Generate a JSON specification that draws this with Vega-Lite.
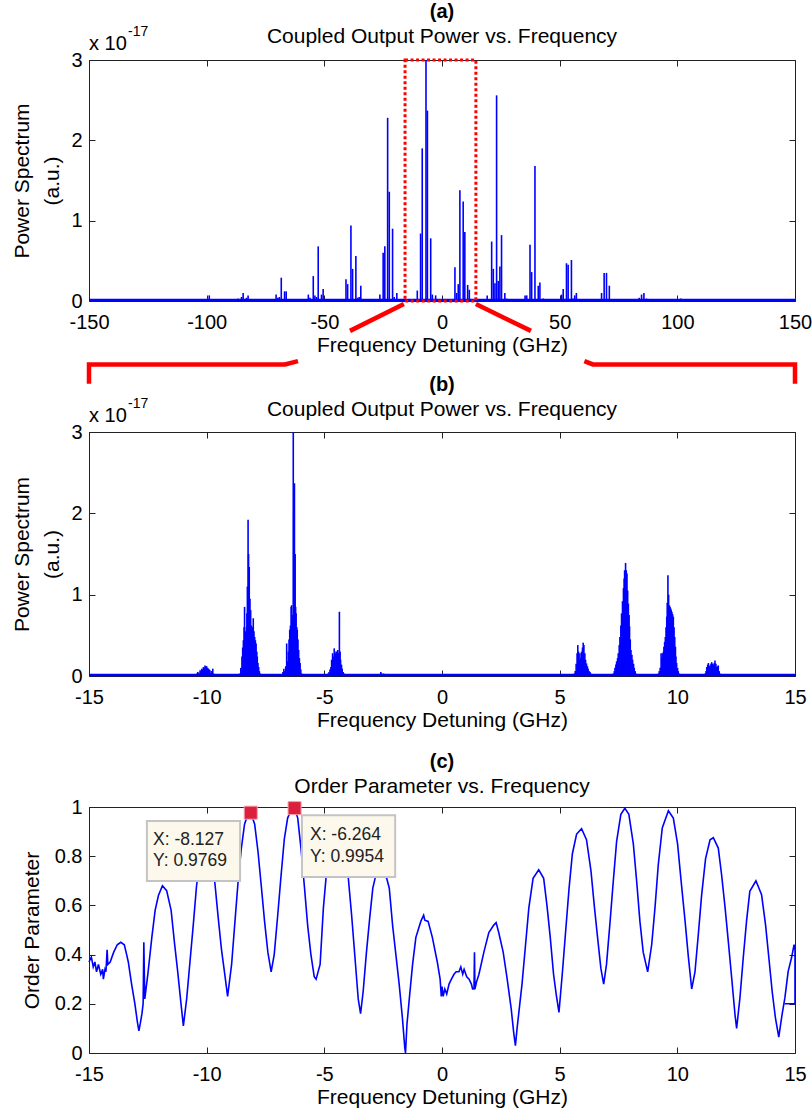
{
  "$schema": "https://vega.github.io/schema/vega-lite/v6.json",
  "background": "white",
  "padding": {"left": 11, "top": 2, "right": 0, "bottom": 4},
  "config": {
    "font": "Liberation Sans",
    "view": {"stroke": null},
    "axis": {"grid": false, "domainColor": "#222", "tickColor": "#222", "labelColor": "#000", "titleColor": "#000", "labelFontSize": 20, "titleFontSize": 21, "titleFontWeight": "normal", "labelFlush": false, "labelOverlap": false, "tickSize": -6, "domainWidth": 1, "tickWidth": 1},
    "title": {"fontSize": 20, "subtitleFontSize": 21, "color": "#000", "subtitleColor": "#000", "anchor": "middle", "fontWeight": "bold", "offset": 6, "subtitlePadding": 4}
  },
  "datasets": {
    "specA": [
      {"x": -98.9, "p": 0.07}, {"x": -86.6, "p": 0.03}, {"x": -85.2, "p": 0.05}, {"x": -84.5, "p": 0.1}, {"x": -83.1, "p": 0.04}, {"x": -82.4, "p": 0.07},
      {"x": -70.5, "p": 0.08}, {"x": -69.8, "p": 0.04}, {"x": -69.1, "p": 0.05}, {"x": -68.3, "p": 0.29}, {"x": -66.9, "p": 0.12}, {"x": -66.2, "p": 0.12},
      {"x": -56.8, "p": 0.08}, {"x": -56.1, "p": 0.04}, {"x": -54.7, "p": 0.31}, {"x": -54.0, "p": 0.07}, {"x": -53.3, "p": 0.05}, {"x": -52.6, "p": 0.68}, {"x": -51.2, "p": 0.08}, {"x": -50.5, "p": 0.15},
      {"x": -40.8, "p": 0.27}, {"x": -40.1, "p": 0.21}, {"x": -38.7, "p": 0.94}, {"x": -38.0, "p": 0.4}, {"x": -36.6, "p": 0.56}, {"x": -35.9, "p": 0.04}, {"x": -35.2, "p": 0.05}, {"x": -34.5, "p": 0.19},
      {"x": -26.4, "p": 0.08}, {"x": -25.0, "p": 0.6}, {"x": -24.3, "p": 0.68}, {"x": -23.1, "p": 2.28}, {"x": -22.4, "p": 1.36}, {"x": -21.0, "p": 0.9}, {"x": -20.3, "p": 0.05}, {"x": -19.2, "p": 0.1},
      {"x": -10.5, "p": 0.13}, {"x": -9.1, "p": 0.84}, {"x": -8.4, "p": 1.9}, {"x": -6.8, "p": 3.0}, {"x": -6.2, "p": 2.37}, {"x": -4.8, "p": 0.78}, {"x": -4.1, "p": 0.08}, {"x": -2.7, "p": 0.07},
      {"x": 5.5, "p": 0.42}, {"x": 6.2, "p": 0.1}, {"x": 6.9, "p": 0.21}, {"x": 7.6, "p": 1.38}, {"x": 9.0, "p": 1.24}, {"x": 9.7, "p": 0.86}, {"x": 10.9, "p": 0.2}, {"x": 11.6, "p": 0.14},
      {"x": 19.2, "p": 0.07}, {"x": 21.1, "p": 0.74}, {"x": 21.8, "p": 0.4}, {"x": 22.5, "p": 0.22}, {"x": 23.2, "p": 2.56}, {"x": 23.9, "p": 0.25}, {"x": 24.6, "p": 0.43}, {"x": 25.3, "p": 0.82}, {"x": 26.7, "p": 0.1}, {"x": 27.4, "p": 0.03},
      {"x": 35.3, "p": 0.07}, {"x": 36.0, "p": 0.07}, {"x": 37.4, "p": 0.7}, {"x": 38.1, "p": 0.36}, {"x": 39.5, "p": 1.68}, {"x": 40.9, "p": 0.19}, {"x": 41.6, "p": 0.23}, {"x": 43.0, "p": 0.03},
      {"x": 50.8, "p": 0.08}, {"x": 51.5, "p": 0.15}, {"x": 52.9, "p": 0.47}, {"x": 53.6, "p": 0.45}, {"x": 55.0, "p": 0.51}, {"x": 55.7, "p": 0.03}, {"x": 56.4, "p": 0.07}, {"x": 57.1, "p": 0.1},
      {"x": 67.8, "p": 0.1}, {"x": 68.9, "p": 0.35}, {"x": 69.9, "p": 0.35}, {"x": 71.1, "p": 0.19},
      {"x": 83.8, "p": 0.04}, {"x": 84.8, "p": 0.08}, {"x": 85.8, "p": 0.1}, {"x": 86.9, "p": 0.03},
      {"x": 101.5, "p": 0.03}
    ],
    "specB": [
      {"x": -10.42, "p": 0.03}, {"x": -10.38, "p": 0.05}, {"x": -10.33, "p": 0.04}, {"x": -10.28, "p": 0.07}, {"x": -10.24, "p": 0.06}, {"x": -10.21, "p": 0.09}, {"x": -10.17, "p": 0.08}, {"x": -10.14, "p": 0.11}, {"x": -10.1, "p": 0.1}, {"x": -10.07, "p": 0.13}, {"x": -10.03, "p": 0.12}, {"x": -10.0, "p": 0.12}, {"x": -9.96, "p": 0.1}, {"x": -9.93, "p": 0.09}, {"x": -9.89, "p": 0.08}, {"x": -9.86, "p": 0.07}, {"x": -9.82, "p": 0.04}, {"x": -9.78, "p": 0.06}, {"x": -9.74, "p": 0.09}, {"x": -9.71, "p": 0.03},
      {"x": -8.6, "p": 0.03}, {"x": -8.55, "p": 0.1}, {"x": -8.5, "p": 0.24}, {"x": -8.47, "p": 0.35}, {"x": -8.44, "p": 0.44}, {"x": -8.41, "p": 0.6}, {"x": -8.39, "p": 0.85}, {"x": -8.36, "p": 0.55}, {"x": -8.33, "p": 0.44}, {"x": -8.31, "p": 0.6}, {"x": -8.29, "p": 0.77}, {"x": -8.27, "p": 1.1}, {"x": -8.24, "p": 1.92}, {"x": -8.22, "p": 1.5}, {"x": -8.19, "p": 1.34}, {"x": -8.16, "p": 0.95}, {"x": -8.13, "p": 0.81}, {"x": -8.1, "p": 0.62}, {"x": -8.07, "p": 0.52}, {"x": -8.04, "p": 0.6}, {"x": -8.02, "p": 0.71}, {"x": -7.99, "p": 0.55}, {"x": -7.96, "p": 0.48}, {"x": -7.93, "p": 0.44}, {"x": -7.9, "p": 0.4}, {"x": -7.87, "p": 0.3}, {"x": -7.85, "p": 0.24}, {"x": -7.82, "p": 0.16}, {"x": -7.79, "p": 0.11}, {"x": -7.76, "p": 0.06}, {"x": -7.73, "p": 0.03},
      {"x": -6.76, "p": 0.05}, {"x": -6.72, "p": 0.09}, {"x": -6.68, "p": 0.06}, {"x": -6.64, "p": 0.12}, {"x": -6.6, "p": 0.4}, {"x": -6.57, "p": 0.18}, {"x": -6.53, "p": 0.3}, {"x": -6.5, "p": 0.45}, {"x": -6.47, "p": 0.57}, {"x": -6.44, "p": 0.62}, {"x": -6.41, "p": 0.85}, {"x": -6.39, "p": 0.87}, {"x": -6.37, "p": 0.75}, {"x": -6.35, "p": 0.69}, {"x": -6.32, "p": 3.0}, {"x": -6.3, "p": 2.0}, {"x": -6.27, "p": 2.37}, {"x": -6.24, "p": 1.5}, {"x": -6.22, "p": 0.85}, {"x": -6.2, "p": 0.77}, {"x": -6.17, "p": 0.6}, {"x": -6.15, "p": 0.57}, {"x": -6.12, "p": 0.45}, {"x": -6.09, "p": 0.32}, {"x": -6.06, "p": 0.22}, {"x": -6.03, "p": 0.16}, {"x": -6.0, "p": 0.08}, {"x": -5.96, "p": 0.03},
      {"x": -4.84, "p": 0.03}, {"x": -4.8, "p": 0.05}, {"x": -4.76, "p": 0.08}, {"x": -4.72, "p": 0.11}, {"x": -4.69, "p": 0.2}, {"x": -4.65, "p": 0.28}, {"x": -4.62, "p": 0.24}, {"x": -4.58, "p": 0.34}, {"x": -4.55, "p": 0.3}, {"x": -4.51, "p": 0.28}, {"x": -4.47, "p": 0.3}, {"x": -4.43, "p": 0.32}, {"x": -4.4, "p": 0.28}, {"x": -4.36, "p": 0.79}, {"x": -4.33, "p": 0.3}, {"x": -4.31, "p": 0.2}, {"x": -4.27, "p": 0.14}, {"x": -4.24, "p": 0.09}, {"x": -4.2, "p": 0.05}, {"x": -4.16, "p": 0.03},
      {"x": -2.6, "p": 0.05}, {"x": -2.56, "p": 0.03}, {"x": -2.48, "p": 0.03},
      {"x": 5.62, "p": 0.03}, {"x": 5.66, "p": 0.06}, {"x": 5.7, "p": 0.15}, {"x": 5.74, "p": 0.28}, {"x": 5.77, "p": 0.38}, {"x": 5.8, "p": 0.3}, {"x": 5.83, "p": 0.2}, {"x": 5.86, "p": 0.28}, {"x": 5.9, "p": 0.22}, {"x": 5.93, "p": 0.3}, {"x": 5.97, "p": 0.35}, {"x": 6.0, "p": 0.41}, {"x": 6.03, "p": 0.38}, {"x": 6.07, "p": 0.28}, {"x": 6.1, "p": 0.2}, {"x": 6.14, "p": 0.155}, {"x": 6.18, "p": 0.12}, {"x": 6.21, "p": 0.09}, {"x": 6.25, "p": 0.06}, {"x": 6.29, "p": 0.05}, {"x": 6.32, "p": 0.03},
      {"x": 7.28, "p": 0.03}, {"x": 7.32, "p": 0.06}, {"x": 7.35, "p": 0.1}, {"x": 7.39, "p": 0.14}, {"x": 7.42, "p": 0.18}, {"x": 7.46, "p": 0.22}, {"x": 7.49, "p": 0.28}, {"x": 7.53, "p": 0.38}, {"x": 7.56, "p": 0.48}, {"x": 7.6, "p": 0.62}, {"x": 7.63, "p": 0.77}, {"x": 7.67, "p": 0.92}, {"x": 7.71, "p": 1.08}, {"x": 7.74, "p": 1.2}, {"x": 7.76, "p": 1.3}, {"x": 7.8, "p": 1.39}, {"x": 7.83, "p": 1.3}, {"x": 7.86, "p": 1.26}, {"x": 7.89, "p": 1.05}, {"x": 7.92, "p": 0.89}, {"x": 7.95, "p": 0.75}, {"x": 7.97, "p": 0.61}, {"x": 8.0, "p": 0.45}, {"x": 8.03, "p": 0.32}, {"x": 8.07, "p": 0.26}, {"x": 8.1, "p": 0.2}, {"x": 8.14, "p": 0.15}, {"x": 8.17, "p": 0.1}, {"x": 8.21, "p": 0.06}, {"x": 8.24, "p": 0.03},
      {"x": 9.19, "p": 0.03}, {"x": 9.23, "p": 0.06}, {"x": 9.27, "p": 0.1}, {"x": 9.31, "p": 0.28}, {"x": 9.34, "p": 0.22}, {"x": 9.38, "p": 0.28}, {"x": 9.41, "p": 0.3}, {"x": 9.43, "p": 0.36}, {"x": 9.46, "p": 0.42}, {"x": 9.49, "p": 0.48}, {"x": 9.52, "p": 0.6}, {"x": 9.55, "p": 0.73}, {"x": 9.57, "p": 0.9}, {"x": 9.6, "p": 1.24}, {"x": 9.63, "p": 1.0}, {"x": 9.66, "p": 0.87}, {"x": 9.69, "p": 0.85}, {"x": 9.72, "p": 0.83}, {"x": 9.74, "p": 0.81}, {"x": 9.77, "p": 0.79}, {"x": 9.8, "p": 0.76}, {"x": 9.83, "p": 0.73}, {"x": 9.86, "p": 0.6}, {"x": 9.89, "p": 0.48}, {"x": 9.92, "p": 0.36}, {"x": 9.94, "p": 0.24}, {"x": 9.97, "p": 0.16}, {"x": 10.01, "p": 0.1}, {"x": 10.04, "p": 0.06}, {"x": 10.08, "p": 0.03},
      {"x": 11.18, "p": 0.03}, {"x": 11.22, "p": 0.06}, {"x": 11.25, "p": 0.11}, {"x": 11.29, "p": 0.14}, {"x": 11.32, "p": 0.16}, {"x": 11.36, "p": 0.12}, {"x": 11.39, "p": 0.13}, {"x": 11.43, "p": 0.15}, {"x": 11.46, "p": 0.17}, {"x": 11.5, "p": 0.15}, {"x": 11.53, "p": 0.14}, {"x": 11.57, "p": 0.16}, {"x": 11.6, "p": 0.19}, {"x": 11.64, "p": 0.15}, {"x": 11.67, "p": 0.11}, {"x": 11.71, "p": 0.12}, {"x": 11.74, "p": 0.13}, {"x": 11.78, "p": 0.06}, {"x": 11.81, "p": 0.03}
    ],
    "order": [
      {"x": -15.0, "r": 0.37}, {"x": -14.9, "r": 0.39}, {"x": -14.82, "r": 0.35}, {"x": -14.75, "r": 0.37}, {"x": -14.68, "r": 0.33}, {"x": -14.6, "r": 0.36}, {"x": -14.5, "r": 0.32}, {"x": -14.42, "r": 0.34}, {"x": -14.39, "r": 0.3}, {"x": -14.32, "r": 0.34}, {"x": -14.28, "r": 0.33}, {"x": -14.23, "r": 0.42}, {"x": -14.2, "r": 0.36}, {"x": -14.1, "r": 0.37}, {"x": -13.95, "r": 0.41}, {"x": -13.8, "r": 0.44}, {"x": -13.65, "r": 0.45}, {"x": -13.5, "r": 0.44}, {"x": -13.4, "r": 0.4}, {"x": -13.33, "r": 0.37}, {"x": -13.19, "r": 0.28}, {"x": -13.05, "r": 0.2}, {"x": -12.95, "r": 0.13}, {"x": -12.88, "r": 0.09}, {"x": -12.82, "r": 0.12}, {"x": -12.75, "r": 0.16}, {"x": -12.7, "r": 0.2}, {"x": -12.67, "r": 0.45}, {"x": -12.63, "r": 0.22}, {"x": -12.5, "r": 0.32}, {"x": -12.33, "r": 0.47}, {"x": -12.19, "r": 0.58}, {"x": -12.05, "r": 0.64}, {"x": -11.88, "r": 0.68}, {"x": -11.7, "r": 0.66}, {"x": -11.51, "r": 0.58}, {"x": -11.37, "r": 0.45}, {"x": -11.23, "r": 0.33}, {"x": -11.09, "r": 0.2}, {"x": -10.99, "r": 0.11}, {"x": -10.85, "r": 0.22}, {"x": -10.71, "r": 0.37}, {"x": -10.57, "r": 0.52}, {"x": -10.43, "r": 0.68}, {"x": -10.25, "r": 0.8}, {"x": -10.05, "r": 0.86}, {"x": -9.85, "r": 0.82}, {"x": -9.65, "r": 0.69}, {"x": -9.51, "r": 0.55}, {"x": -9.37, "r": 0.42}, {"x": -9.23, "r": 0.32}, {"x": -9.11, "r": 0.23}, {"x": -8.94, "r": 0.36}, {"x": -8.81, "r": 0.52}, {"x": -8.67, "r": 0.69}, {"x": -8.53, "r": 0.83}, {"x": -8.39, "r": 0.93}, {"x": -8.25, "r": 0.97}, {"x": -8.127, "r": 0.9769}, {"x": -7.96, "r": 0.93}, {"x": -7.82, "r": 0.82}, {"x": -7.68, "r": 0.68}, {"x": -7.54, "r": 0.535}, {"x": -7.4, "r": 0.41}, {"x": -7.26, "r": 0.33}, {"x": -7.13, "r": 0.4}, {"x": -6.99, "r": 0.55}, {"x": -6.84, "r": 0.72}, {"x": -6.7, "r": 0.87}, {"x": -6.56, "r": 0.955}, {"x": -6.4, "r": 0.99}, {"x": -6.264, "r": 0.9954}, {"x": -6.13, "r": 0.955}, {"x": -5.99, "r": 0.83}, {"x": -5.85, "r": 0.68}, {"x": -5.71, "r": 0.52}, {"x": -5.57, "r": 0.4}, {"x": -5.43, "r": 0.31}, {"x": -5.35, "r": 0.3}, {"x": -5.18, "r": 0.36}, {"x": -5.04, "r": 0.59}, {"x": -4.93, "r": 0.71}, {"x": -4.75, "r": 0.85}, {"x": -4.45, "r": 0.92}, {"x": -4.2, "r": 0.85}, {"x": -3.98, "r": 0.71}, {"x": -3.84, "r": 0.56}, {"x": -3.7, "r": 0.39}, {"x": -3.56, "r": 0.22}, {"x": -3.46, "r": 0.16}, {"x": -3.35, "r": 0.25}, {"x": -3.21, "r": 0.41}, {"x": -3.07, "r": 0.55}, {"x": -2.94, "r": 0.67}, {"x": -2.82, "r": 0.72}, {"x": -2.6, "r": 0.77}, {"x": -2.35, "r": 0.71}, {"x": -2.24, "r": 0.67}, {"x": -2.1, "r": 0.52}, {"x": -1.96, "r": 0.4}, {"x": -1.82, "r": 0.28}, {"x": -1.68, "r": 0.14}, {"x": -1.58, "r": 0.02}, {"x": -1.55, "r": 0.0}, {"x": -1.49, "r": 0.115}, {"x": -1.39, "r": 0.22}, {"x": -1.25, "r": 0.36}, {"x": -1.11, "r": 0.47}, {"x": -0.9, "r": 0.535}, {"x": -0.78, "r": 0.56}, {"x": -0.73, "r": 0.54}, {"x": -0.59, "r": 0.535}, {"x": -0.41, "r": 0.47}, {"x": -0.2, "r": 0.37}, {"x": -0.08, "r": 0.3}, {"x": -0.03, "r": 0.23}, {"x": 0.0, "r": 0.27}, {"x": 0.05, "r": 0.23}, {"x": 0.12, "r": 0.26}, {"x": 0.2, "r": 0.24}, {"x": 0.3, "r": 0.28}, {"x": 0.4, "r": 0.3}, {"x": 0.51, "r": 0.32}, {"x": 0.6, "r": 0.33}, {"x": 0.72, "r": 0.33}, {"x": 0.8, "r": 0.35}, {"x": 0.88, "r": 0.32}, {"x": 0.94, "r": 0.34}, {"x": 1.05, "r": 0.31}, {"x": 1.15, "r": 0.3}, {"x": 1.25, "r": 0.28}, {"x": 1.3, "r": 0.26}, {"x": 1.36, "r": 0.26}, {"x": 1.38, "r": 0.41}, {"x": 1.4, "r": 0.26}, {"x": 1.47, "r": 0.29}, {"x": 1.57, "r": 0.32}, {"x": 1.78, "r": 0.41}, {"x": 1.99, "r": 0.49}, {"x": 2.2, "r": 0.52}, {"x": 2.3, "r": 0.53}, {"x": 2.41, "r": 0.49}, {"x": 2.6, "r": 0.41}, {"x": 2.77, "r": 0.3}, {"x": 2.94, "r": 0.18}, {"x": 3.05, "r": 0.08}, {"x": 3.12, "r": 0.03}, {"x": 3.19, "r": 0.1}, {"x": 3.26, "r": 0.16}, {"x": 3.4, "r": 0.28}, {"x": 3.55, "r": 0.44}, {"x": 3.69, "r": 0.59}, {"x": 3.87, "r": 0.71}, {"x": 4.11, "r": 0.745}, {"x": 4.32, "r": 0.71}, {"x": 4.46, "r": 0.6}, {"x": 4.6, "r": 0.47}, {"x": 4.74, "r": 0.32}, {"x": 4.85, "r": 0.24}, {"x": 4.97, "r": 0.165}, {"x": 5.11, "r": 0.32}, {"x": 5.25, "r": 0.49}, {"x": 5.4, "r": 0.67}, {"x": 5.54, "r": 0.81}, {"x": 5.72, "r": 0.89}, {"x": 5.93, "r": 0.912}, {"x": 6.14, "r": 0.867}, {"x": 6.33, "r": 0.74}, {"x": 6.47, "r": 0.6}, {"x": 6.61, "r": 0.47}, {"x": 6.75, "r": 0.345}, {"x": 6.87, "r": 0.28}, {"x": 6.99, "r": 0.36}, {"x": 7.13, "r": 0.52}, {"x": 7.28, "r": 0.7}, {"x": 7.42, "r": 0.86}, {"x": 7.6, "r": 0.97}, {"x": 7.77, "r": 0.995}, {"x": 7.94, "r": 0.97}, {"x": 8.13, "r": 0.85}, {"x": 8.27, "r": 0.7}, {"x": 8.41, "r": 0.535}, {"x": 8.55, "r": 0.41}, {"x": 8.74, "r": 0.33}, {"x": 8.91, "r": 0.44}, {"x": 9.05, "r": 0.59}, {"x": 9.19, "r": 0.765}, {"x": 9.36, "r": 0.915}, {"x": 9.62, "r": 0.985}, {"x": 9.83, "r": 0.955}, {"x": 10.01, "r": 0.85}, {"x": 10.16, "r": 0.7}, {"x": 10.33, "r": 0.535}, {"x": 10.47, "r": 0.39}, {"x": 10.61, "r": 0.26}, {"x": 10.75, "r": 0.33}, {"x": 10.89, "r": 0.48}, {"x": 11.03, "r": 0.64}, {"x": 11.2, "r": 0.79}, {"x": 11.39, "r": 0.867}, {"x": 11.53, "r": 0.875}, {"x": 11.74, "r": 0.833}, {"x": 11.88, "r": 0.725}, {"x": 12.03, "r": 0.59}, {"x": 12.17, "r": 0.45}, {"x": 12.31, "r": 0.305}, {"x": 12.45, "r": 0.156}, {"x": 12.52, "r": 0.1}, {"x": 12.66, "r": 0.224}, {"x": 12.8, "r": 0.386}, {"x": 12.94, "r": 0.535}, {"x": 13.08, "r": 0.657}, {"x": 13.34, "r": 0.7}, {"x": 13.58, "r": 0.643}, {"x": 13.75, "r": 0.52}, {"x": 13.89, "r": 0.386}, {"x": 14.03, "r": 0.25}, {"x": 14.17, "r": 0.142}, {"x": 14.31, "r": 0.065}, {"x": 14.45, "r": 0.156}, {"x": 14.57, "r": 0.224}, {"x": 14.71, "r": 0.332}, {"x": 14.85, "r": 0.386}, {"x": 14.96, "r": 0.44}, {"x": 15.0, "r": 0.42}, {"x": 15.0, "r": 0.2}, {"x": 14.57, "r": 0.2}
    ],
    "zoom": [
      {"seg": "ld", "x": -16.2, "y": -0.037}, {"seg": "ld", "x": -39.1, "y": -0.372},
      {"seg": "rd", "x": 14.4, "y": -0.037}, {"seg": "rd", "x": 37.8, "y": -0.372},
      {"seg": "lb", "x": -150, "y": -1.03}, {"seg": "lb", "x": -150, "y": -0.79}, {"seg": "lb", "x": -66.7, "y": -0.79}, {"seg": "lb", "x": -61.2, "y": -0.748},
      {"seg": "rb", "x": 60.5, "y": -0.748}, {"seg": "rb", "x": 64.1, "y": -0.79}, {"seg": "rb", "x": 150, "y": -0.79}, {"seg": "rb", "x": 150, "y": -1.03}
    ],
    "box": [{"x1": -15.7, "x2": 14.4, "y1": 0, "y2": 3}],
    "tipBoxes": [{"x1": -12.54, "x2": -8.58, "y1": 0.699, "y2": 0.943}, {"x1": -5.95, "x2": -1.99, "y1": 0.715, "y2": 0.966}],
    "tipText": [{"x": -12.28, "y": 0.866, "t": "X: -8.127"}, {"x": -12.28, "y": 0.779, "t": "Y: 0.9769"}, {"x": -5.61, "y": 0.885, "t": "X: -6.264"}, {"x": -5.61, "y": 0.795, "t": "Y: 0.9954"}],
    "markers": [{"x": -8.127, "r": 0.9769}, {"x": -6.264, "r": 0.9954}],
    "one": [{"k": 1}],
    "expA": [{"base": "x 10", "exp": "-17"}]
  },
  "vconcat": [
    {
      "width": 706, "height": 241,
      "title": {"text": "(a)", "subtitle": "Coupled Output Power vs. Frequency", "offset": -22},
      "layer": [
        {
          "data": {"name": "specA"},
          "mark": {"type": "rule", "color": "#0000FF", "strokeWidth": 1.6},
          "encoding": {
            "x": {"field": "x", "type": "quantitative", "scale": {"domain": [-150, 150], "nice": false, "zero": false},
                  "axis": {"orient": "bottom", "values": [-150, -100, -50, 0, 50, 100, 150], "labelExpr": "replace(datum.label, '\u2212', '-')", "labelPadding": 17, "title": "Frequency Detuning (GHz)", "titlePadding": 2}},
            "y": {"field": "p", "type": "quantitative", "scale": {"domain": [0, 3], "nice": false},
                  "axis": {"orient": "left", "values": [0, 1, 2, 3], "labelPadding": 13, "title": ["Power Spectrum", "(a.u.)"], "titleLineHeight": 30, "titlePadding": 8}},
            "y2": {"datum": 0}
          }
        },
        {
          "data": {"name": "one"},
          "mark": {"type": "rule", "color": "#0000FF", "strokeWidth": 2.5},
          "encoding": {
            "x": {"datum": -150, "type": "quantitative", "axis": {"orient": "top", "values": [-150, -100, -50, 0, 50, 100, 150], "labels": false, "title": null}},
            "x2": {"datum": 150},
            "y": {"datum": 0.012, "type": "quantitative", "axis": {"orient": "right", "values": [0, 1, 2, 3], "labels": false, "title": null}}
          }
        },
        {
          "data": {"name": "box"},
          "mark": {"type": "rect", "filled": false, "stroke": "#FF0000", "strokeWidth": 3, "strokeDash": [3, 2.5]},
          "encoding": {
            "x": {"field": "x1", "type": "quantitative", "axis": null},
            "x2": {"field": "x2"},
            "y": {"field": "y1", "type": "quantitative", "axis": null},
            "y2": {"field": "y2"}
          }
        },
        {
          "data": {"name": "zoom"},
          "mark": {"type": "line", "color": "#FF0000", "strokeWidth": 4.5, "strokeCap": "butt", "strokeJoin": "miter"},
          "encoding": {
            "x": {"field": "x", "type": "quantitative", "axis": null},
            "y": {"field": "y", "type": "quantitative", "axis": null},
            "detail": {"field": "seg"},
            "order": {"value": null}
          }
        },
        {
          "data": {"name": "expA"},
          "mark": {"type": "text", "align": "left", "baseline": "alphabetic", "fontSize": 20, "dy": -10, "color": "#000"},
          "encoding": {"x": {"datum": -150, "type": "quantitative", "axis": null}, "y": {"datum": 3, "type": "quantitative", "axis": null}, "text": {"field": "base"}}
        },
        {
          "data": {"name": "expA"},
          "mark": {"type": "text", "align": "left", "baseline": "alphabetic", "fontSize": 14, "dx": 39, "dy": -24, "color": "#000"},
          "encoding": {"x": {"datum": -150, "type": "quantitative", "axis": null}, "y": {"datum": 3, "type": "quantitative", "axis": null}, "text": {"field": "exp"}}
        }
      ],
      "resolve": {"axis": {"x": "independent", "y": "independent"}}
    },
    {
      "width": 706, "height": 244,
      "title": {"text": "(b)", "subtitle": "Coupled Output Power vs. Frequency", "offset": -23},
      "layer": [
        {
          "data": {"name": "specB"},
          "mark": {"type": "rule", "color": "#0000FF", "strokeWidth": 1.6},
          "encoding": {
            "x": {"field": "x", "type": "quantitative", "scale": {"domain": [-15, 15], "nice": false, "zero": false},
                  "axis": {"orient": "bottom", "values": [-15, -10, -5, 0, 5, 10, 15], "labelExpr": "replace(datum.label, '\u2212', '-')", "labelPadding": 17, "title": "Frequency Detuning (GHz)", "titlePadding": 2}},
            "y": {"field": "p", "type": "quantitative", "scale": {"domain": [0, 3], "nice": false},
                  "axis": {"orient": "left", "values": [0, 1, 2, 3], "labelPadding": 13, "title": ["Power Spectrum", "(a.u.)"], "titleLineHeight": 30, "titlePadding": 8}},
            "y2": {"datum": 0}
          }
        },
        {
          "data": {"name": "one"},
          "mark": {"type": "rule", "color": "#0000FF", "strokeWidth": 2.5},
          "encoding": {
            "x": {"datum": -15, "type": "quantitative", "axis": {"orient": "top", "values": [-15, -10, -5, 0, 5, 10, 15], "labels": false, "title": null}},
            "x2": {"datum": 15},
            "y": {"datum": 0.012, "type": "quantitative", "axis": {"orient": "right", "values": [0, 1, 2, 3], "labels": false, "title": null}}
          }
        },
        {
          "data": {"name": "expA"},
          "mark": {"type": "text", "align": "left", "baseline": "alphabetic", "fontSize": 20, "dy": -10, "color": "#000"},
          "encoding": {"x": {"datum": -15, "type": "quantitative", "axis": null}, "y": {"datum": 3, "type": "quantitative", "axis": null}, "text": {"field": "base"}}
        },
        {
          "data": {"name": "expA"},
          "mark": {"type": "text", "align": "left", "baseline": "alphabetic", "fontSize": 14, "dx": 39, "dy": -24, "color": "#000"},
          "encoding": {"x": {"datum": -15, "type": "quantitative", "axis": null}, "y": {"datum": 3, "type": "quantitative", "axis": null}, "text": {"field": "exp"}}
        }
      ],
      "resolve": {"axis": {"x": "independent", "y": "independent"}}
    },
    {
      "width": 706, "height": 246,
      "title": {"text": "(c)", "subtitle": "Order Parameter vs. Frequency", "offset": 0},
      "layer": [
        {
          "data": {"name": "order"},
          "mark": {"type": "line", "color": "#0000FF", "strokeWidth": 1.6},
          "encoding": {
            "x": {"field": "x", "type": "quantitative", "scale": {"domain": [-15, 15], "nice": false, "zero": false},
                  "axis": {"orient": "bottom", "values": [-15, -10, -5, 0, 5, 10, 15], "labelExpr": "replace(datum.label, '\u2212', '-')", "labelPadding": 17, "title": "Frequency Detuning (GHz)", "titlePadding": 2}},
            "y": {"field": "r", "type": "quantitative", "scale": {"domain": [0, 1], "nice": false},
                  "axis": {"orient": "left", "values": [0, 0.2, 0.4, 0.6, 0.8, 1], "format": "~g", "labelPadding": 13, "title": "Order Parameter", "titlePadding": 12}},
            "order": {"value": null}
          }
        },
        {
          "data": {"name": "one"},
          "mark": {"type": "rule", "opacity": 0},
          "encoding": {
            "x": {"datum": -15, "type": "quantitative", "axis": {"orient": "top", "values": [-15, -10, -5, 0, 5, 10, 15], "labels": false, "title": null}},
            "x2": {"datum": 15},
            "y": {"datum": 1, "type": "quantitative", "axis": {"orient": "right", "values": [0, 0.2, 0.4, 0.6, 0.8, 1], "labels": false, "title": null}}
          }
        },
        {
          "data": {"name": "tipBoxes"},
          "mark": {"type": "rect", "fill": "#FCF8EC", "stroke": "#C4C4C4", "strokeWidth": 2},
          "encoding": {
            "x": {"field": "x1", "type": "quantitative", "axis": null},
            "x2": {"field": "x2"},
            "y": {"field": "y1", "type": "quantitative", "axis": null},
            "y2": {"field": "y2"}
          }
        },
        {
          "data": {"name": "tipText"},
          "mark": {"type": "text", "align": "left", "baseline": "middle", "fontSize": 17.5, "color": "#222"},
          "encoding": {
            "x": {"field": "x", "type": "quantitative", "axis": null},
            "y": {"field": "y", "type": "quantitative", "axis": null},
            "text": {"field": "t"}
          }
        },
        {
          "data": {"name": "markers"},
          "mark": {"type": "square", "size": 170, "filled": true, "color": "#DC1F3D", "stroke": "#F3A0A8", "strokeWidth": 1, "opacity": 1},
          "encoding": {
            "x": {"field": "x", "type": "quantitative", "axis": null},
            "y": {"field": "r", "type": "quantitative", "axis": null}
          }
        }
      ],
      "resolve": {"axis": {"x": "independent", "y": "independent"}}
    }
  ],
  "spacing": 131,
  "bounds": "flush"
}
